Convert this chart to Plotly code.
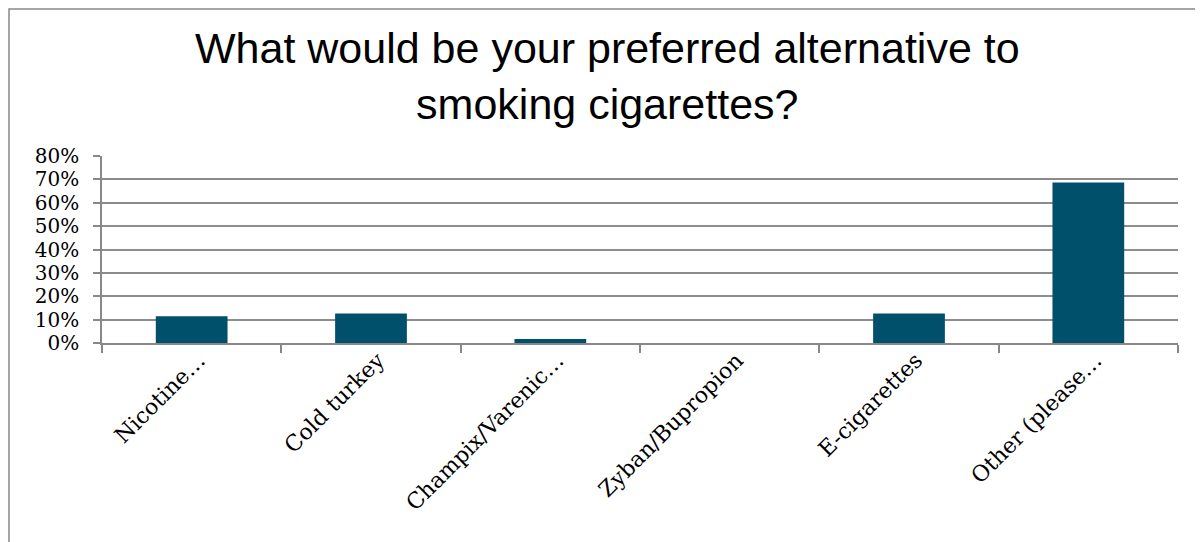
import plotly.graph_objects as go

categories = ["Nicotine…", "Cold turkey", "Champix/Varenic…", "Zyban/Bupropion", "E-cigarettes", "Other (please…"]
values = [0.114, 0.126, 0.017, 0.0, 0.126, 0.687]
y_ticks = [0, 0.1, 0.2, 0.3, 0.4, 0.5, 0.6, 0.7, 0.8]
y_labels = ["0%", "10%", "20%", "30%", "40%", "50%", "60%", "70%", "80%"]
title_text = "What would be your preferred alternative to<br>smoking cigarettes?"

OFF = 8  # page body margin
W, H = 1203 - OFF, 542 - OFF
# target window pixels
PL, PR, PT, PB = 102, 1178, 156, 343
L, T = PL - OFF, PT - OFF
R = W - (PR - OFF)
B = H - (PB - OFF)
pw, ph = W - L - R, H - T - B

def px_x(p):
    return (p - OFF - L) / pw

def px_y(p):
    return (H - B - (p - OFF)) / ph

fig = go.Figure(go.Bar(
    x=categories, y=values,
    marker=dict(color="#00506B", line=dict(color="#9cc3d5", width=0)),
    width=0.4,
))

fig.update_layout(
    width=W, height=H,
    margin=dict(l=L, r=R, t=T, b=B),
    paper_bgcolor="white", plot_bgcolor="white",
    showlegend=False,
    xaxis=dict(
        type="category", tickangle=-45, tickson="boundaries",
        ticks="outside", ticklen=8, tickcolor="#888888", tickwidth=1.5,
        showline=True, linecolor="#888888", linewidth=1.5,
        showgrid=False, ticklabelshift=7, ticklabelstandoff=-6,
        tickfont=dict(family="DejaVu Serif, serif", size=22, color="black"),
    ),
    yaxis=dict(
        range=[0, 0.8], tickvals=y_ticks, ticktext=y_labels,
        ticks="outside", ticklen=7, tickcolor="#888888", tickwidth=1.5,
        showline=True, linecolor="#888888", linewidth=1.5,
        showgrid=True, gridcolor="#8c8c8c", gridwidth=1.5,
        zeroline=False, ticklabelstandoff=10,
        tickfont=dict(family="DejaVu Serif, serif", size=20, color="black"),
    ),
    annotations=[dict(text=title_text, xref="paper", yref="paper",
                      x=px_x(607), y=px_y(76), xanchor="center", yanchor="middle",
                      showarrow=False, align="center",
                      font=dict(family="Liberation Sans, Arial", size=43, color="black"))],
    shapes=[dict(type="rect", xref="paper", yref="paper",
                 x0=px_x(9), x1=px_x(1300), y0=px_y(9), y1=px_y(700),
                 line=dict(color="#888888", width=1.5), layer="below")],
)

fig.write_html("out.html")
